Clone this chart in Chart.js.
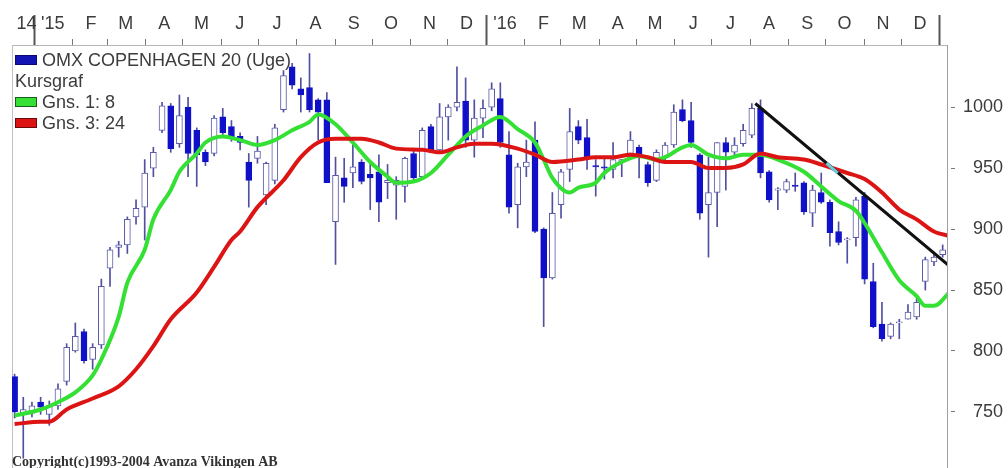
<!DOCTYPE html>
<html>
<head>
<meta charset="utf-8">
<title>OMX Copenhagen 20 (Uge)</title>
<script src="https://cdn.jsdelivr.net/npm/chart.js@4.4.1/dist/chart.umd.min.js"></script>
<style>
    html, body { margin: 0; padding: 0; background: #fff; }
    #wrap { width: 1008px; height: 468px; position: relative; }
</style>
</head>
<body>
<div id="wrap"><canvas id="grafico"></canvas></div>
<script>
/*
*   Ugegraf for OMX Copenhagen 20, dec. 2014 - dec. 2016.
*   Værdier (én candle pr. uge).
*/
const opens  = [779, 748, 749, 758, 748, 755, 775, 800, 816, 793, 805, 868, 885, 887, 910, 918, 950, 981, 1001, 970,
                1000, 981, 963, 962, 992, 984, 976, 955, 958, 928, 940, 998, 1033, 1015, 1016, 1006, 1006, 906, 942, 946,
                955, 945, 947, 938, 936, 935, 962, 943, 984, 965, 992, 1000, 1005, 973, 991, 1000, 1007, 961, 920, 951,
                973, 900, 860, 920, 949, 984, 975, 952, 951, 949, 955, 962, 967, 953, 940, 959, 969, 998, 989, 961,
                920, 930, 971, 963, 970, 977, 999, 947, 932, 932, 936, 938, 913, 930, 922, 898, 891, 893, 927, 857,
                822, 812, 823, 826, 828, 857, 873, 879];
const highs  = [781, 762, 758, 762, 759, 773, 806, 823, 818, 806, 859, 885, 890, 910, 924, 957, 967, 1004, 1003, 1010,
                1008, 983, 965, 993, 999, 989, 979, 962, 976, 955, 986, 1030, 1036, 1024, 1044, 1007, 1012, 959, 958, 970,
                957, 954, 961, 953, 943, 959, 964, 983, 986, 1003, 1002, 1033, 1024, 1006, 1006, 1020, 1020, 980, 954, 973,
                988, 901, 930, 949, 999, 989, 990, 957, 958, 971, 957, 980, 969, 955, 965, 971, 1002, 1006, 1004, 962,
                959, 971, 975, 975, 986, 1003, 1006, 948, 934, 941, 946, 939, 936, 946, 924, 906, 893, 926, 930, 872,
                840, 823, 826, 838, 845, 877, 880, 887];
const lows   = [745, 712, 746, 748, 739, 752, 772, 799, 790, 785, 802, 853, 877, 880, 904, 891, 943, 979, 963, 967,
                943, 935, 952, 960, 977, 972, 965, 918, 954, 920, 937, 996, 1015, 996, 996, 973, 938, 871, 922, 934,
                937, 916, 906, 925, 908, 922, 940, 942, 963, 963, 973, 997, 967, 959, 975, 997, 967, 913, 901, 943,
                897, 820, 859, 909, 939, 970, 949, 927, 941, 942, 943, 957, 942, 935, 939, 957, 967, 988, 967, 908,
                877, 902, 932, 961, 968, 975, 942, 922, 916, 930, 931, 912, 902, 921, 886, 887, 872, 886, 855, 819,
                808, 810, 810, 826, 826, 850, 870, 877];
const closes = [750, 752, 755, 754, 755, 769, 803, 812, 792, 803, 853, 883, 887, 908, 917, 946, 963, 1001, 966, 993,
                962, 961, 955, 991, 979, 975, 971, 940, 964, 954, 983, 1026, 1018, 1010, 998, 996, 938, 944, 935, 951,
                939, 942, 922, 940, 940, 958, 942, 981, 965, 992, 1000, 1004, 973, 991, 999, 1015, 971, 918, 951, 955,
                898, 860, 913, 947, 980, 973, 959, 951, 950, 957, 957, 973, 961, 938, 963, 969, 996, 989, 971, 913,
                930, 971, 963, 969, 981, 999, 946, 924, 933, 939, 935, 914, 932, 922, 897, 889, 892, 924, 859, 820,
                810, 822, 824, 832, 840, 875, 877, 883];

// Glidende gennemsnit (Gns. 1: 8 uger og Gns. 3: 24 uger), aflæst som uge -> værdi.
const ma8Weeks  = [0, 3, 5, 7, 9, 10, 12, 13, 15, 16, 18, 19, 21, 22, 24, 26, 28, 30, 32, 34, 35, 37, 39, 41, 43, 44,
                   46, 48, 50, 52, 54, 56, 58, 60, 61, 62, 64, 65, 67, 68, 70, 72, 74, 75, 77, 78, 80, 82, 84, 86, 88,
                   91, 93, 95, 97, 98, 100, 102, 104, 105, 106, 108];
const ma8Values = [747, 752, 758, 766, 780, 793, 828, 856, 883, 908, 932, 947, 962, 971, 976, 973, 969, 973, 981, 988,
                   994, 986, 971, 955, 943, 938, 939, 946, 961, 976, 985, 992, 982, 971, 957, 942, 930, 934, 938, 946,
                   955, 960, 957, 959, 967, 969, 961, 958, 961, 961, 957, 947, 935, 923, 915, 905, 881, 858, 845, 837,
                   837, 850];
const ma24Weeks  = [0, 3, 4, 6, 9, 12, 14, 16, 18, 21, 23, 25, 26, 28, 31, 33, 35, 37, 40, 42, 44, 47, 49, 51, 53, 55,
                    58, 60, 62, 65, 67, 69, 71, 73, 75, 78, 80, 82, 84, 86, 88, 91, 93, 96, 98, 100, 102, 104, 106, 108];
const ma24Values = [740, 742, 742, 752, 761, 771, 785, 804, 826, 848, 869, 891, 898, 918, 940, 959, 971, 974, 974, 971,
                    966, 965, 963, 967, 970, 970, 966, 961, 955, 957, 959, 959, 961, 959, 955, 955, 950, 950, 953, 962,
                    959, 957, 953, 946, 941, 930, 916, 908, 898, 894];

// Tegnet trendlinje (start- og slutpunkt) og det lille markerede stykke på den.
const trendWeeks  = [85.4, 107.9];
const trendValues = [1003, 869];
const markWeeks  = [93.6, 94.9];
const markValues = [954, 946];

// Akser: y-etiketter og månedsbogstaver.
const yTicks = [750, 800, 850, 900, 950, 1000];
const monthLetters = ['J', 'F', 'M', 'A', 'M', 'J', 'J', 'A', 'S', 'O', 'N', 'D'];
const yearLabels = ["'15", "'16"];
const firstYearLabel = '14';

const seriesName = 'OMX COPENHAGEN 20 (Uge)';
const legendItems = [
    { text: seriesName, fill: '#1414b4', line: '#0a0a70' },
    { text: 'Kursgraf', fill: null },
    { text: 'Gns. 1: 8', fill: '#33e033', line: '#1d5a1d' },
    { text: 'Gns. 3: 24', fill: '#dd1414', line: '#6a0a0a' }
];
const copyrightText = 'Copyright(c)1993-2004 Avanza Vikingen AB';

// Farver.
const BLUE = '#1010c8';
const OUTLINE = '#5a5aa8';
const WICK = '#5050a0';
const GREEN = '#33e033';
const RED = '#dd1414';
const TEXT = '#3c3c3c';
const FONT = '"Liberation Sans", Arial, sans-serif';

// Ugeindeks hvor 1. januar 2015 ligger, og skalaens grænser.
const JAN_2015 = 2.25;
const X_MIN = -0.3;
const X_MAX = 107.5;

const weekOf = (date) => JAN_2015 + (date - new Date(2015, 0, 1)) / (7 * 24 * 3600 * 1000);

// Se bygger listen af ticks til den øverste akse: månedsgrænser, årsgrænser og etiketter.
const topTicks = [{ value: (X_MIN + JAN_2015) / 2 + 0.4, label: firstYearLabel, kind: 'label' }];
[2015, 2016].forEach((year, y) => {
    for (let m = 0; m < 12; m++) {
        topTicks.push({ value: weekOf(new Date(year, m, 1)), label: '', kind: m === 0 ? 'year' : 'month' });
        topTicks.push({ value: weekOf(new Date(year, m, 16)), label: m === 0 ? yearLabels[y] : monthLetters[m], kind: 'label' });
    }
});
topTicks.push({ value: weekOf(new Date(2017, 0, 1)), label: '', kind: 'year' });

const weeks = opens.map((_, i) => i);
const isDown = weeks.map(i => closes[i] < opens[i]);

// Plugin der tegner legenden i plotområdets øverste venstre hjørne (under candles).
const legendPlugin = {
    id: 'kursLegend',
    beforeDatasetsDraw(chart) {
        const { ctx, chartArea } = chart;
        ctx.save();
        ctx.font = '18px ' + FONT;
        ctx.textBaseline = 'middle';
        legendItems.forEach((item, k) => {
            const y = chartArea.top + 15 + k * 21;
            let x = chartArea.left + 3;
            if (item.fill) {
                ctx.fillStyle = item.fill;
                ctx.fillRect(x, y - 5, 22, 10);
                ctx.strokeStyle = item.line;
                ctx.lineWidth = 1;
                ctx.strokeRect(x + 0.5, y - 4.5, 21, 9);
                x += 27;
            }
            ctx.fillStyle = TEXT;
            ctx.fillText(item.text, x, y + 1);
        });
        ctx.restore();
    },
    afterDraw(chart) {
        const { ctx, chartArea } = chart;
        ctx.save();
        ctx.font = 'bold 14px "Liberation Serif", "Times New Roman", serif';
        ctx.fillStyle = '#333';
        ctx.textBaseline = 'middle';
        ctx.fillText(copyrightText, chartArea.left, chart.height - 6);
        ctx.restore();
    }
};

new Chart(document.getElementById('grafico'), {
    type: 'bar',
    data: {
        datasets: [
            {
                type: 'line',
                data: markWeeks.map((w, k) => ({ x: w, y: markValues[k] })),
                borderColor: '#70c8dc',
                borderWidth: 3,
                pointRadius: 0,
                order: -1
            },
            {
                type: 'line',
                data: trendWeeks.map((w, k) => ({ x: w, y: trendValues[k] })),
                borderColor: '#111',
                borderWidth: 3,
                pointRadius: 0,
                order: 0
            },
            {
                type: 'line',
                label: 'Gns. 3: 24',
                data: ma24Weeks.map((w, k) => ({ x: w, y: ma24Values[k] })),
                borderColor: RED,
                borderWidth: 4,
                pointRadius: 0,
                cubicInterpolationMode: 'monotone',
                order: 1
            },
            {
                type: 'line',
                label: 'Gns. 1: 8',
                data: ma8Weeks.map((w, k) => ({ x: w, y: ma8Values[k] })),
                borderColor: GREEN,
                borderWidth: 4,
                pointRadius: 0,
                cubicInterpolationMode: 'monotone',
                order: 2
            },
            {
                label: 'Krop',
                data: weeks.map(i => ({ x: i, y: [opens[i], closes[i]] })),
                backgroundColor: weeks.map(i => isDown[i] ? BLUE : '#ffffff'),
                borderColor: weeks.map(i => isDown[i] ? BLUE : OUTLINE),
                borderWidth: 1,
                borderSkipped: false,
                barThickness: 6,
                grouped: false,
                order: 3
            },
            {
                label: 'Væge',
                data: weeks.map(i => ({ x: i, y: [lows[i], highs[i]] })),
                backgroundColor: WICK,
                barThickness: 1,
                grouped: false,
                order: 4
            }
        ]
    },
    options: {
        responsive: true,
        maintainAspectRatio: false,
        animation: false,
        events: [],
        layout: { padding: { left: 12, right: 5, top: 0, bottom: 0 } },
        plugins: {
            legend: { display: false },
            tooltip: { enabled: false }
        },
        scales: {
            x: {
                type: 'linear',
                position: 'top',
                min: X_MIN,
                max: X_MAX,
                offset: false,
                afterBuildTicks: (scale) => { scale.ticks = topTicks.map(t => ({ value: t.value })); },
                afterFit: (scale) => {
                    scale.height = 45;
                    scale.paddingLeft = 0;
                    scale.paddingRight = 0;
                },
                ticks: {
                    autoSkip: false,
                    maxRotation: 0,
                    minRotation: 0,
                    padding: -20,
                    color: TEXT,
                    font: { family: FONT, size: 18 },
                    callback: (value, index) => topTicks[index] ? topTicks[index].label : ''
                },
                grid: {
                    offset: false,
                    drawOnChartArea: false,
                    drawTicks: true,
                    tickLength: 30,
                    tickColor: (ctx) => {
                        const t = topTicks[ctx.index];
                        if (!t || t.kind === 'label') return 'rgba(0,0,0,0)';
                        return t.kind === 'year' ? '#555' : '#777';
                    },
                    tickWidth: (ctx) => (topTicks[ctx.index] && topTicks[ctx.index].kind === 'year') ? 2 : 1,
                    tickBorderDash: (ctx) => (topTicks[ctx.index] && topTicks[ctx.index].kind === 'month') ? [0, 24, 6, 100] : []
                },
                border: { display: true, color: '#b4b4b4', width: 1 }
            },
            y: {
                type: 'linear',
                position: 'right',
                min: 704,
                max: 1051,
                afterBuildTicks: (scale) => { scale.ticks = yTicks.map(v => ({ value: v })); },
                afterFit: (scale) => {
                    scale.width = 56;
                    scale.paddingTop = 0;
                    scale.paddingBottom = 0;
                },
                ticks: {
                    crossAlign: 'far',
                    padding: 8,
                    color: TEXT,
                    font: { family: FONT, size: 18 },
                    callback: (value) => value
                },
                grid: {
                    drawOnChartArea: false,
                    drawTicks: true,
                    tickLength: 8,
                    tickColor: '#777',
                    tickBorderDash: [0, 3, 5, 20]
                },
                border: { display: true, color: '#a0a0a0', width: 1 }
            },
            yl: {
                type: 'linear',
                position: 'left',
                min: 0,
                max: 1,
                afterFit: (scale) => { scale.width = 0; },
                ticks: { display: false },
                grid: { display: false, drawTicks: false },
                border: { display: true, color: '#c0c0c0', width: 1 }
            }
        }
    },
    plugins: [legendPlugin]
});
</script>
</body>
</html>
